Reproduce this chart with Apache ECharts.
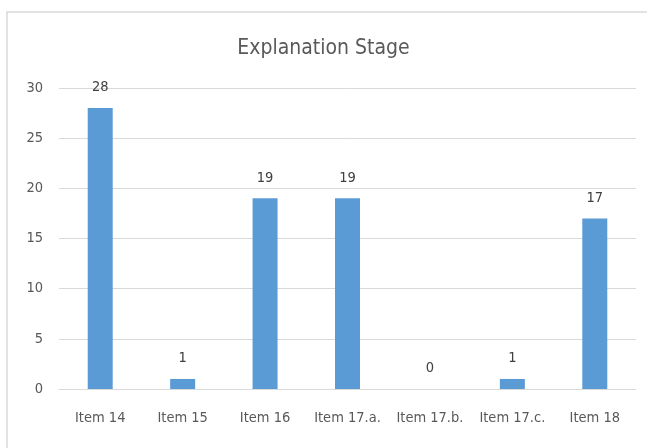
<!DOCTYPE html>
<html>
<head>
<meta charset="utf-8">
<script src="https://cdn.jsdelivr.net/npm/echarts@6/dist/echarts.min.js"></script>
<style>
  html, body { margin: 0; background: #fff; }
  #chart { width: 647px; height: 448px; }
</style>
</head>
<body>
<div id="chart"></div>
<script>
// data
var categories = ['Item 14', 'Item 15', 'Item 16', 'Item 17.a.', 'Item 17.b.', 'Item 17.c.', 'Item 18'];
var values = [28, 1, 19, 19, 0, 1, 17];
var yTicks = [0, 5, 10, 15, 20, 25, 30];

var font = '"Liberation Sans Narrow", "DejaVu Sans Condensed", sans-serif';
var myChart = echarts.init(document.getElementById('chart'));

myChart.setOption({
  animation: false,
  textStyle: { fontFamily: font },
  title: {
    text: 'Explanation Stage',
    left: 'center',
    top: 33,
    textStyle: { fontFamily: font, fontSize: 21, fontWeight: 'normal', color: '#595959' }
  },
  // chart frame (only top and left edges are inside the picture)
  graphic: [{
    type: 'rect',
    shape: { x: 7, y: 12, width: 700, height: 500 },
    style: { fill: 'none', stroke: '#d9d9d9', lineWidth: 1.5 },
    silent: true
  }],
  grid: { left: 59, right: 11, top: 88, bottom: 59, containLabel: false },
  xAxis: {
    type: 'category',
    data: categories,
    axisLine: { lineStyle: { color: '#d9d9d9' } },
    axisTick: { show: false },
    axisLabel: { color: '#595959', fontSize: 14.5, margin: 22, fontFamily: font, interval: 0 }
  },
  yAxis: {
    type: 'value',
    min: yTicks[0],
    max: yTicks[yTicks.length - 1],
    interval: 5,
    axisLine: { show: false },
    axisTick: { show: false },
    splitLine: { lineStyle: { color: '#d9d9d9' } },
    axisLabel: { color: '#595959', fontSize: 14.5, margin: 16, fontFamily: font }
  },
  series: [{
    type: 'bar',
    data: values,
    barWidth: 25,
    itemStyle: { color: '#5b9bd5' },
    label: {
      show: true,
      position: 'top',
      distance: 13,
      color: '#404040',
      fontSize: 14.5,
      fontFamily: font
    }
  }]
});
</script>
</body>
</html>
